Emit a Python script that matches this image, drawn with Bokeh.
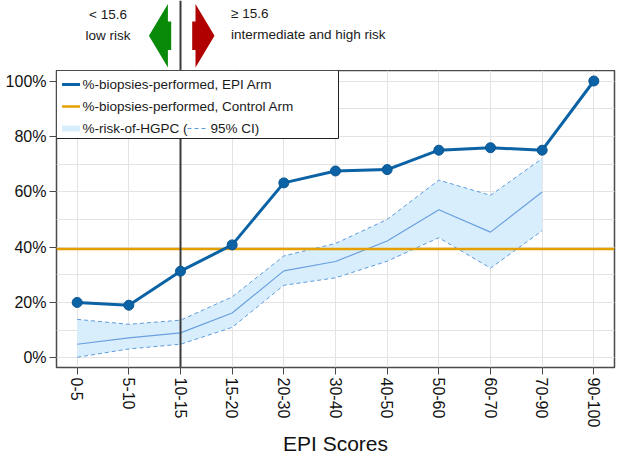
from bokeh.plotting import figure
from bokeh.models import Range1d, FixedTicker, SingleIntervalTicker, PrintfTickFormatter
from bokeh.layouts import column
from bokeh.embed import file_html
from bokeh.resources import INLINE
from bokeh.core.properties import value

# ---------------- data ----------------
categories = ["0-5", "5-10", "10-15", "15-20", "20-30", "30-40",
              "40-50", "50-60", "60-70", "70-90", "90-100"]
epi_arm = [20.0, 19.0, 31.3, 40.8, 63.2, 67.5, 68.0, 75.0, 75.9, 75.0, 100.0]
control_arm = 39.3
risk_categories = categories[:10]
risk_center = [4.9, 7.2, 9.0, 16.2, 31.4, 34.8, 42.2, 53.5, 45.4, 59.9]
risk_lower = [0.2, 3.2, 4.9, 11.0, 26.2, 28.9, 34.9, 43.4, 32.4, 45.9]
risk_upper = [13.9, 12.1, 13.6, 22.0, 36.8, 41.3, 50.0, 64.2, 58.7, 72.0]
threshold_category = "10-15"
threshold_label = "15.6"
legend_labels = ["%-biopsies-performed, EPI Arm",
                 "%-biopsies-performed, Control Arm",
                 "%-risk-of-HGPC (", "95% CI)"]

# ---------------- style ----------------
FONT = "Liberation Sans"
BLUE = "#0b62a4"
ORANGE = "#e69f00"
BAND = "#d8eefc"
CI_LINE = "#5e9bdc"
GRID = "#e3e3e3"
FRAME = "#4a4a4a"
FW, FH_MAIN, FH_TOP = 558, 297, 70
XR = (-0.4, 10.4)
YR = (-3.5, 103.8)

x_idx = list(range(len(categories)))
risk_idx = [categories.index(c) for c in risk_categories]
thr = categories.index(threshold_category)

p = figure(frame_width=FW, frame_height=FH_MAIN,
           x_range=Range1d(*XR), y_range=Range1d(*YR),
           output_backend="svg", toolbar_location=None,
           min_border_left=56, min_border_right=2,
           min_border_top=0, min_border_bottom=0,
           background_fill_color="white", border_fill_color="white")

# helpers: pixel offsets inside the frame -> data units (for legend decoration)
def dx(px):
    return XR[0] + px * (XR[1] - XR[0]) / FW

def dy(py):
    return YR[1] - py * (YR[1] - YR[0]) / FH_MAIN

# CI band
p.varea(x=risk_idx, y1=risk_lower, y2=risk_upper, fill_color=BAND)
p.line(risk_idx, risk_lower, line_color=CI_LINE, line_width=1, line_dash="4 3")
p.line(risk_idx, risk_upper, line_color=CI_LINE, line_width=1, line_dash="4 3")
p.line(risk_idx, risk_center, line_color="#6a9fe0", line_width=1.2)

# control arm
p.segment(x0=XR[0], y0=control_arm, x1=XR[1], y1=control_arm,
          line_color=ORANGE, line_width=2.5)

# threshold vertical line
p.segment(x0=thr, y0=YR[0], x1=thr, y1=YR[1], line_color="#3a3a3a", line_width=2)

# EPI arm
p.line(x_idx, epi_arm, line_color=BLUE, line_width=3)
p.scatter(x_idx, epi_arm, size=10, fill_color=BLUE, line_color="#0a5592", line_width=1)

# ---- legend (drawn manually) ----
p.quad(left=dx(0), right=dx(282), top=dy(0), bottom=dy(68),
       fill_color="white", line_color="#222222", line_width=1)
rows = [14, 36, 58]
p.segment(x0=dx(5.5), y0=dy(rows[0]), x1=dx(23.5), y1=dy(rows[0]),
          line_color=BLUE, line_width=3)
p.segment(x0=dx(5.5), y0=dy(rows[1]), x1=dx(23.5), y1=dy(rows[1]),
          line_color=ORANGE, line_width=2.5)
p.segment(x0=dx(5.5), y0=dy(rows[2]), x1=dx(23.5), y1=dy(rows[2]),
          line_color=BAND, line_width=6)
p.text(x=[dx(26)] * 3, y=[dy(r) for r in rows], text=legend_labels[:3],
       text_font=value(FONT), text_font_size="13.5px", text_color="#1a1a1a",
       text_baseline="middle", text_align="left")
p.segment(x0=dx(131), y0=dy(rows[2]), x1=dx(151), y1=dy(rows[2]),
          line_color=CI_LINE, line_width=1.2, line_dash="4 3")
p.text(x=[dx(154)], y=[dy(rows[2])], text=[legend_labels[3]],
       text_font=value(FONT), text_font_size="13.5px", text_color="#1a1a1a",
       text_baseline="middle", text_align="left")

# axes
p.xaxis.ticker = FixedTicker(ticks=x_idx)
p.xaxis.major_label_overrides = {i: c for i, c in zip(x_idx, categories)}
p.xaxis.major_label_orientation = "vertical"
p.yaxis.ticker = SingleIntervalTicker(interval=20, num_minor_ticks=2)
p.yaxis.formatter = PrintfTickFormatter(format="%d%%")
for ax in (p.xaxis, p.yaxis):
    ax.axis_line_color = None
    ax.major_tick_line_color = FRAME
    ax.major_tick_out = 7
    ax.major_tick_in = 0
    ax.minor_tick_line_color = None
    ax.major_label_text_font = FONT
    ax.major_label_text_font_size = "16px"
    ax.major_label_text_color = "#111111"
    ax.major_label_standoff = 3
p.xaxis.axis_label = "EPI Scores"
p.xaxis.axis_label_text_font = FONT
p.xaxis.axis_label_text_font_size = "21px"
p.xaxis.axis_label_text_font_style = "normal"
p.xaxis.axis_label_text_color = "#111111"
p.xaxis.axis_label_standoff = 2
p.xgrid.grid_line_color = GRID
p.ygrid.grid_line_color = GRID
p.ygrid.minor_grid_line_color = GRID
p.outline_line_color = FRAME
p.outline_line_width = 1.5

# ---------------- top annotation strip ----------------
t = figure(frame_width=FW, frame_height=FH_TOP,
           x_range=p.x_range, y_range=Range1d(74, 4),
           output_backend="svg", toolbar_location=None,
           min_border_left=56, min_border_right=2,
           min_border_top=0, min_border_bottom=0)
t.axis.visible = False
t.grid.visible = False
t.outline_line_color = None
t.segment(x0=thr, y0=74, x1=thr, y1=4, line_color="#3a3a3a", line_width=2)

u = (XR[1] - XR[0]) / FW  # data units per pixel
green_px = [-31.6, -12.6, -12.6, -9.3, -9.3, -12.6, -12.6]
green_py = [39.2, 7.5, 25.0, 25.0, 53.5, 53.5, 71.0]
red_px = [34.0, 15.0, 15.0, 11.7, 11.7, 15.0, 15.0]
red_py = [39.2, 7.5, 25.0, 25.0, 53.5, 53.5, 71.0]
t.patch([thr + a * u for a in green_px], green_py, fill_color="#098a09", line_color=None)
t.patch([thr + a * u for a in red_px], red_py, fill_color="#b00000", line_color=None)

t.text(x=[thr - 72.5 * u] * 2, y=[18, 39], text=["< " + threshold_label, "low risk"],
       text_font=value(FONT), text_font_size="13.5px", text_color="#1a1a1a",
       text_align="center", text_baseline="middle")
t.text(x=[thr + 50.5 * u] * 2, y=[17, 38],
       text=["\u2265 " + threshold_label, "intermediate and high risk"],
       text_font=value(FONT), text_font_size="13.5px", text_color="#1a1a1a",
       text_align="left", text_baseline="middle")

layout = column(t, p)
open("out.html", "w").write(file_html(layout, INLINE))
